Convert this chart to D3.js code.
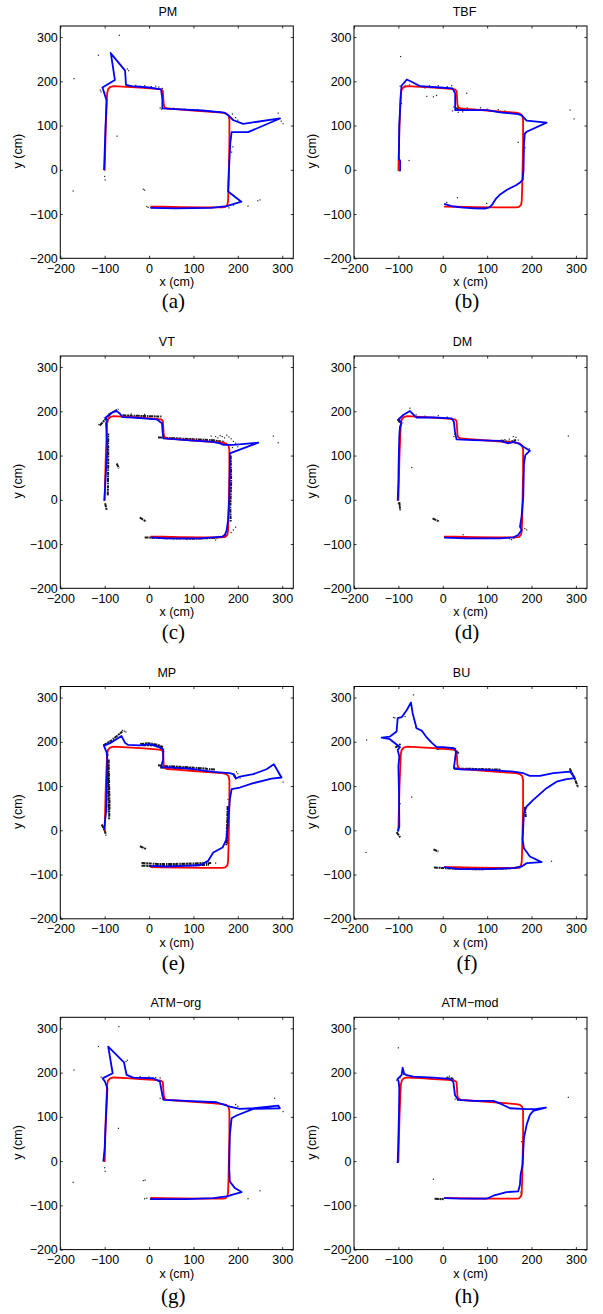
<!DOCTYPE html>
<html>
<head>
<meta charset="utf-8">
<script src="https://cdn.jsdelivr.net/npm/d3@7"></script>
<style>
  body { margin: 0; background: #fff; }
  svg { display: block; }
</style>
</head>
<body>
<div id="chart"></div>
<script>

// ---- data (cm) ----
const xTicks = [-200, -100, 0, 100, 200, 300];
const yTicks = [-200, -100, 0, 100, 200, 300];
const titles = ['PM', 'TBF', 'VT', 'DM', 'MP', 'BU', 'ATM\u2212org', 'ATM\u2212mod'];
const subLabels = ['(a)', '(b)', '(c)', '(d)', '(e)', '(f)', '(g)', '(h)'];

// ground truth path (red), same in every panel
const truth = [[-100,-2],[-99,40],[-97.5,100],[-95.5,150],[-94.5,172],[-92.5,182],[-88,187],[-80,189],[-50,187.5],[-20,185.5],[10,183.5],[27,182],[31,178.5],[32,165],[33,148],[35,141],[40,138.5],[60,137],[100,134],[140,131],[165,129],[174,127],[179,122.5],[181,113],[181,60],[180,10],[179,-40],[178,-70],[176.5,-79],[172,-84],[165,-85],[120,-85],[70,-84.5],[30,-83.5],[3,-83]];

// estimated paths (blue)
const estPM = [[-101.5,-0.5],[-100,40],[-98,100],[-96,150],[-96,158],[-105,186],[-77,203],[-86,263],[-54,224],[-52,192],[-40,189],[0,186],[27,182],[30,160],[30,139],[60,137],[120,134],[170,129],[180,122],[190,112],[212,104],[295,116],[223,85],[186,85],[183,60],[180,0],[178,-49],[208,-72],[175,-82],[140,-86],[60,-87],[3,-86]];
const estTBF = [[-96,-3],[-96,20],[-99,25],[-98,100],[-95,160],[-93,190],[-81,204],[-68,198],[-51,189],[-6,186],[22,184],[28,173],[28,135],[46,135],[99,135],[129,130],[170,126],[178,123],[189,111],[234,106.5],[189,86],[185,82],[183,60],[182,0],[180,-23],[175,-28],[165,-35],[145,-45],[130,-55],[120,-65],[112,-78],[105,-85],[95,-87.5],[70,-87],[40,-85],[20,-82],[3,-77]];
const estVT = [[-101,-2],[-99,30],[-97,67],[-94,112],[-96,158],[-97,173],[-94,180],[-99,185],[-88,194],[-80,199],[-73,200.5],[-66,195],[-60,187],[-36,186],[17,182],[29,173],[32,139],[84,135],[144,131],[160,127.5],[168,124],[190,124],[246,129],[182,105],[182,82],[181,7],[178,-46],[175,-68],[172,-77],[167,-83],[115,-87],[40,-87],[5,-85]];
const estDM = [[-101.5,-2],[-100,40],[-99.4,82],[-98,143],[-96.4,165],[-92.6,174],[-99.4,182],[-89,191.6],[-74,200.6],[-62.6,189.3],[-59,186],[-21,186],[20,184],[25,176.5],[27.5,154],[31,136.6],[69,135],[129,133],[147.6,127.6],[159,131],[170,127.6],[181.4,120],[196.4,111],[186,101],[183,82],[181.4,7],[177.6,-38],[174,-60.7],[177.6,-68],[170,-79.5],[159,-84.8],[129,-87],[54,-87],[3,-85.5]];
const estMP = [[-101.6,0.3],[-97,40],[-95.6,85],[-94,161],[-95.6,176],[-101.6,191],[-88,197],[-62,213],[-54.4,198],[-47,193],[-20.6,192],[2,194.6],[20.7,189],[32,183],[32,161],[28.2,147],[28.2,142],[47,142],[92,139.6],[144.6,132],[182,129],[189.6,126.8],[195.6,117],[204.6,121.5],[234.7,126.8],[264.7,138],[281.2,149.4],[298.5,119.3],[276,117],[234.7,106.5],[204.6,96.7],[186,93],[182,70],[178.4,25],[174.6,-20],[165.6,-39],[144.6,-50],[133.3,-69],[114.6,-79],[77,-80.3],[39.5,-81.8],[2,-80.3]];
const estBU = [[-101.6,-2.7],[-97.9,8.6],[-98.6,84],[-100,144],[-97.9,166.7],[-101.6,181.8],[-96.4,187.8],[-107.7,196.8],[-119,205.9],[-137.7,209.6],[-119,211.9],[-104,223.2],[-101.6,253.3],[-92.6,255.6],[-81,272],[-71.6,288.7],[-67.9,264.6],[-59,230.7],[-47.6,225.4],[-37.8,211.9],[-25,198.3],[-13.8,187.8],[1.2,187.8],[25,185.5],[29.7,178],[27.5,159.2],[25,140.4],[38.7,138],[98.8,136.6],[158.9,132.8],[181.4,129],[196.4,123],[218.9,123],[249,129],[286.5,132.8],[297.8,117.8],[278.9,115.5],[256.4,110],[233.8,95.2],[203.9,68.8],[188.9,53.8],[182.9,38.7],[179.9,-21.5],[182.9,-40.4],[196.4,-59.2],[222.7,-72],[188.9,-74.2],[177.6,-81.8],[158.9,-85.5],[98.8,-87.8],[38.7,-87.8],[2.7,-83.3]];
const estATMorg = [[-103,-1],[-100,30],[-98.6,67],[-95.6,127],[-94,165],[-99.4,180],[-104.6,187],[-82,198.5],[-92,258.6],[-56.6,223.3],[-50.6,194.7],[-35.6,188.7],[9.5,187.2],[24.5,179.7],[30.5,146],[33.5,138.3],[84.5,136],[152,133],[182,123.3],[204.6,118],[234.7,119.5],[291,125.6],[294.7,119.5],[234.7,118],[197,103],[186,97],[182,59.4],[180.6,-15.8],[182,-46],[193.4,-61],[208.4,-70],[174.6,-79.7],[144.6,-83.5],[84.5,-85.7],[2,-85.7]];
const estATMmod = [[-101.6,-4.5],[-100,52],[-98.6,112],[-97.9,164.7],[-99.4,179.7],[-101.6,185.7],[-96.4,191],[-92.6,194.7],[-90.4,211.3],[-87.4,198.5],[-83,194.7],[-66.4,191],[-21.3,188.7],[16.2,185.7],[23.7,179.7],[27.5,149.6],[35,138.3],[68.8,136],[113.8,136],[132.6,128.6],[151.4,119.5],[189,117.3],[211.4,118],[232.4,121],[203.9,113.5],[196.4,104.5],[189,82],[182.9,52],[179.9,-8.3],[175.4,-30.8],[173.9,-53.4],[170,-68.4],[143.8,-70],[113.8,-78.2],[98.8,-85],[38.7,-85],[2.7,-83.5]];

// scattered measurements (black dots)
const dotsPM = [[-67,304],[-114,259],[-169,206],[-49,228],[-46,224],[-110,180],[-108,176],[-40,190],[-30,191],[-20,189],[-10,190],[5,188],[15,189],[22,187],[30,184],[25,140],[28,137],[55,139],[80,137],[110,136],[140,133],[160,131],[188,126],[195,118],[200,112],[189,52],[186,40],[-72,76],[-13,-44],[-10,-46],[-171,-48],[250,-68],[223,-82],[245,-70],[291,128],[302,104],[298,110],[-99,-23],[-100,-15],[-5,-83],[-2,-85],[180,-86],[190,-80],[-100,175],[-87,265]];
const dotsTBF = [[-95,256],[-96,189],[-85,190],[-75,192],[-60,188],[-40,185],[-36,166],[-21,165],[-14,168],[-30,190],[-10,190],[10,188],[20,190],[54,173],[25,142],[30,138],[22,133],[35,130],[45,131],[55,140],[70,137],[85,140],[100,137],[110,133],[125,136],[140,133],[287,135],[296,115],[-76,21],[33,-63],[170,62],[180,-20],[99,-76],[9,-74],[-98,-2],[-93,150],[180,80],[185,50]];
const dotsVT = [[280,144],[291,129],[190,-68],[195,-62],[185,-74],[150,-91],[-90,195],[-113,170],[150,143],[160,145],[170,140],[175,146],[185,138],[190,132],[195,128],[200,120],[140,144],[-40,194],[-10,193],[155,140],[165,143],[180,142],[188,118]];
const dotsDM = [[-100,180],[-98,175],[-74,207],[25,143],[27,148],[283,144],[-70,73],[-100,-8],[-97,-15],[-96,-23],[46,-79],[189,-68],[185,-65],[150,-88],[155,-90],[160,-87],[140,-85],[159,143],[165,141],[150,137],[140,136],[135,132],[170,135],[195,115],[-60,192],[-40,189],[-10,190],[10,187]];
const dotsMP = [[302,109],[-60,226],[-52,222],[197,132],[205,118],[33,178],[-92,170],[178,70],[150,-74],[-55,224],[200,128]];
const dotsBU = [[-85,257],[-66,306],[-111,255],[-108,254],[-47.6,225],[-171.5,204],[-70,75],[-173,-50],[245,-70],[-60,232],[150,133],[170,131],[-95,150],[-98,120],[-96,60]];
const dotsATMorg = [[-68,304],[-114,259],[-169,206],[-52,225],[-49,228],[-69,74],[-13,-44],[-9,-43],[-171,-48],[250,-67],[223,-85],[283,142],[302,112],[-99,-23],[-100,-15],[-40,190],[-20,191],[0,190],[15,189],[25,188],[30,140],[25,142],[200,124],[195,128],[-5,-84],[-10,-85],[160,-82],[-108,190]];
const dotsATMmod = [[-100,256],[-104,183],[-96,188],[-88,196],[10,190],[15,192],[20,188],[24,185],[28,140],[33,138],[38,141],[283,144],[-21,-41],[-17,-85],[-10,-86],[-5,-87],[0,-85],[178,-74],[178,44],[176,-70],[-100,-2]];

// dense clusters of measurements (black speckle strokes)
const smearsPM = [];
const smearsTBF = [[[28,140],[40,136],[55,137]]];
const smearsVT = [[[-60,191],[-30,190],[0,189],[28,188]],[[-111,168],[-100,180],[-85,196],[-69,205]],[[20,141],[60,139],[100,137],[140,135],[170,131]],[[-10,-85],[40,-87],[100,-88],[150,-86],[175,-81]],[[-93,10],[-92,80],[-92,150]],[[184,100],[185,40],[183,-20],[184,-50]],[[-73,82],[-68,71]],[[-21,-40],[-7,-49]],[[-99,-8],[-95.6,-23]]];
const smearsDM = [[[-23,-42],[-8,-49]],[[130,134],[150,131],[165,135]],[[-102,182],[-97,176]],[[-98,-5],[-96,-22]]];
const smearsMP = [[[-91,160],[-90,100],[-89,60],[-90,25]],[[-93,150],[-92,100],[-91,40]],[[-107,13],[-100,0],[-97,-12]],[[-103,192],[-85,203],[-70,215],[-58,225]],[[-20,195],[0,197],[20,193],[32,188]],[[-15,192],[10,192],[30,186]],[[20,147],[40,145],[80,143],[120,140],[150,137]],[[25,142],[60,141],[100,139]],[[177,55],[176,20],[175,-10],[174,-35]],[[179,50],[178,10],[176,-30]],[[-17,-74],[20,-76],[60,-76],[100,-75],[140,-74]],[[-17,-80],[20,-81],[60,-80],[100,-79],[135,-78]],[[-20.6,-36],[-7,-42]],[[190,128],[197,116]]];
const smearsBU = [[[-14,184],[10,186],[30,184]],[[30,180],[37,172]],[[25,139],[60,139],[100,138],[130,137]],[[286,140],[296,120],[305,97]],[[-20,-84],[30,-87],[80,-88],[130,-87],[175,-84]],[[-21,-43],[-10,-48]],[[-104,-4],[-100,-10],[-96,-16]],[[185,53],[187,30]],[[-107,187],[-95,195]]];
const smearsATMorg = [];
const smearsATMmod = [[[8,188],[24,186]],[[-18,-85],[2,-86]]];

const panels = [
  { est: estPM, dots: dotsPM, smears: smearsPM },
  { est: estTBF, dots: dotsTBF, smears: smearsTBF },
  { est: estVT, dots: dotsVT, smears: smearsVT },
  { est: estDM, dots: dotsDM, smears: smearsDM },
  { est: estMP, dots: dotsMP, smears: smearsMP },
  { est: estBU, dots: dotsBU, smears: smearsBU },
  { est: estATMorg, dots: dotsATMorg, smears: smearsATMorg },
  { est: estATMmod, dots: dotsATMmod, smears: smearsATMmod }
];

// ---- layout ----
const W = 603, H = 1314;
const colX = [60.3, 354];
const rowY = [26, 356, 686.5, 1017.3];
const labelBase = [308, 638.5, 969.5, 1303];
const titleShift = [-9, -6, -10, -8, -10, -9, -1, -0.5];
const plotW = 233, plotH = 232.3;
const sans = '"Liberation Sans", Arial, Helvetica, sans-serif';
const serif = '"Liberation Serif", "Times New Roman", serif';

const svg = d3.select('#chart').append('svg')
    .attr('width', W)
    .attr('height', H)
    .style('background', '#fff');

const x = d3.scaleLinear().domain([-200, 325]).range([0, plotW]);
const y = d3.scaleLinear().domain([-200, 325]).range([plotH, 0]);

const line = d3.line().x(d => x(d[0])).y(d => y(d[1]));

panels.forEach((p, i) => {
    const col = i % 2, row = Math.floor(i / 2);
    const g = svg.append('g')
        .attr('transform', 'translate(' + colX[col] + ',' + rowY[row] + ')');

    // measurements
    g.selectAll('.smear').data(p.smears).enter().append('path')
        .attr('d', line)
        .attr('fill', 'none')
        .attr('stroke', '#000')
        .attr('stroke-width', 2)
        .attr('stroke-dasharray', '4,0.7,2,0.5,3,1,1.5,0.6')
        .attr('stroke-opacity', 0.9);

    g.selectAll('.dot').data(p.dots).enter().append('rect')
        .attr('x', d => x(d[0]) - 0.6)
        .attr('y', d => y(d[1]) - 0.6)
        .attr('width', 1.2)
        .attr('height', 1.2)
        .attr('fill', '#222');

    // ground truth then estimate
    g.append('path').datum(truth)
        .attr('d', line)
        .attr('fill', 'none')
        .attr('stroke', '#ff0000')
        .attr('stroke-width', 1.8)
        .attr('stroke-linejoin', 'round');

    g.append('path').datum(p.est)
        .attr('d', line)
        .attr('fill', 'none')
        .attr('stroke', '#0000ff')
        .attr('stroke-width', 1.8)
        .attr('stroke-linejoin', 'round');

    // axes, MATLAB style: inward ticks on all four sides
    const ax = g.append('g').attr('transform', 'translate(0,' + plotH + ')')
        .call(d3.axisBottom(x).tickValues(xTicks).tickSize(-2.5).tickPadding(5.5));
    const ay = g.append('g')
        .call(d3.axisLeft(y).tickValues(yTicks).tickSize(-2.5).tickPadding(2.5));
    g.append('g')
        .call(d3.axisTop(x).tickValues(xTicks).tickSize(-2.5).tickFormat(''));
    g.append('g').attr('transform', 'translate(' + plotW + ',0)')
        .call(d3.axisRight(y).tickValues(yTicks).tickSize(-2.5).tickFormat(''));

    g.selectAll('.domain').remove();
    g.selectAll('.tick line').attr('stroke', '#000').attr('stroke-width', 0.8);
    [ax, ay].forEach(a => a.selectAll('text')
        .attr('font-family', sans)
        .attr('font-size', 12.5)
        .attr('fill', '#000'));

    g.append('rect')
        .attr('width', plotW)
        .attr('height', plotH)
        .attr('fill', 'none')
        .attr('stroke', '#000')
        .attr('stroke-width', 1);

    // texts
    g.append('text')
        .attr('x', plotW / 2 + titleShift[i])
        .attr('y', -10)
        .attr('text-anchor', 'middle')
        .attr('font-family', sans)
        .attr('font-size', 12.5)
        .text(titles[i]);

    g.append('text')
        .attr('x', plotW / 2)
        .attr('y', plotH + 28)
        .attr('text-anchor', 'middle')
        .attr('font-family', sans)
        .attr('font-size', 12.5)
        .text('x (cm)');

    g.append('text')
        .attr('transform', 'translate(-38,' + (plotH / 2 + 9) + ') rotate(-90)')
        .attr('text-anchor', 'middle')
        .attr('font-family', sans)
        .attr('font-size', 12.5)
        .text('y (cm)');

    g.append('text')
        .attr('x', plotW / 2 - 3.5)
        .attr('y', labelBase[row] - rowY[row])
        .attr('text-anchor', 'middle')
        .attr('font-family', serif)
        .attr('font-size', 21)
        .text(subLabels[i]);
});

</script>
</body>
</html>
